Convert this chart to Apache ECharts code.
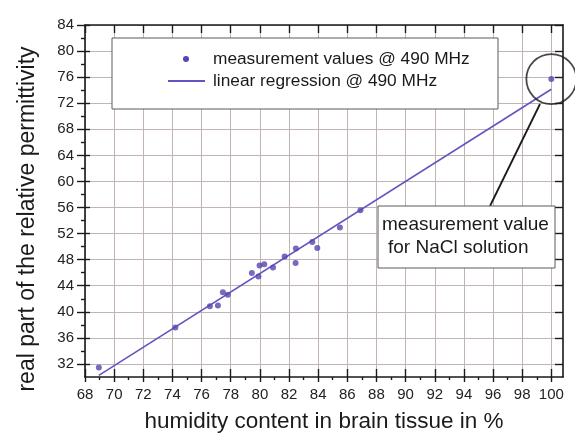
<!DOCTYPE html>
<html>
<head>
<meta charset="utf-8">
<script src="https://cdn.jsdelivr.net/npm/echarts@6/dist/echarts.min.js"></script>
<style>
  html, body { margin: 0; padding: 0; background: #fff; }
  #chart { width: 575px; height: 437px; }
</style>
</head>
<body>
<div id="chart"></div>
<script>
const humidity = [68.95, 74.2, 76.57, 77.12, 77.46, 77.8, 79.45, 79.9, 79.98, 80.3, 80.9, 81.7, 82.47, 82.45, 83.6, 83.94, 85.49, 86.9, 100.0];
const permittivity = [31.45, 37.6, 40.86, 40.97, 43.0, 42.6, 45.97, 45.4, 47.1, 47.3, 46.8, 48.5, 49.7, 47.5, 50.7, 49.8, 52.95, 55.6, 75.7];

// linear regression, end points
const regHumidity = [68.95, 100];
const regPermittivity = [30.26, 74.15];

// ticks
const xTicks = [68, 70, 72, 74, 76, 78, 80, 82, 84, 86, 88, 90, 92, 94, 96, 98, 100];
const xMinorTicks = [69, 71, 73, 75, 77, 79, 81, 83, 85, 87, 89, 91, 93, 95, 97, 99];
const yTicks = [32, 36, 40, 44, 48, 52, 56, 60, 64, 68, 72, 76, 80, 84];
const yMinorTicks = [34, 38, 42, 46, 50, 54, 58, 62, 66, 70, 74, 78, 82];

const FONT = "Liberation Sans, Arial, sans-serif";
const AXIS_COLOR = "#1a1a1a";
const GRID_COLOR = "#c2b4b2";
const X_MIN = 68, X_MAX = 100.8, Y_MIN = 30, Y_MAX = 84;

// extra axes only used to draw tick marks (inside / minor / mirrored)
function tickAxis(extra) {
  return Object.assign({
    type: "value",
    axisLine: { show: false, onZero: false },
    axisLabel: { show: false },
    splitLine: { show: false },
  }, extra);
}

function tickStyle(values, inside, length) {
  return { show: true, customValues: values, inside: inside, length: length,
           lineStyle: { color: AXIS_COLOR, width: 1.4 } };
}

const chart = echarts.init(document.getElementById("chart"), null, { renderer: "canvas" });

const nacl = [humidity[humidity.length - 1], permittivity[permittivity.length - 1]];

chart.setOption({
  animation: false,
  backgroundColor: "#ffffff",
  grid: { left: 85, right: 12, top: 25, bottom: 60, outerBoundsMode: "none" },
  xAxis: [
    {
      type: "value", position: "bottom", min: X_MIN, max: X_MAX,
      axisLine: { onZero: false, lineStyle: { color: AXIS_COLOR, width: 1.6 } },
      axisTick: tickStyle(xTicks, false, 5),
      axisLabel: { customValues: xTicks, fontSize: 15, color: "#222", margin: 10, fontFamily: FONT },
      splitLine: { show: true, lineStyle: { color: GRID_COLOR, width: 1 } },
      name: "humidity content in brain tissue in %",
      nameLocation: "middle", nameGap: 33,
      nameTextStyle: { fontSize: 22.5, color: "#1a1a1a", fontFamily: FONT },
    },
    tickAxis({ position: "bottom", min: X_MIN, max: X_MAX, axisTick: tickStyle(xTicks, true, 8) }),
    tickAxis({ position: "bottom", min: X_MIN, max: X_MAX, axisTick: tickStyle(xMinorTicks, false, 3) }),
    tickAxis({ position: "top", min: X_MIN, max: X_MAX,
      axisLine: { show: true, onZero: false, lineStyle: { color: AXIS_COLOR, width: 1.6 } },
      axisTick: tickStyle(xTicks, true, 8) }),
  ],
  yAxis: [
    {
      type: "value", position: "left", min: Y_MIN, max: Y_MAX,
      axisLine: { show: true, onZero: false, lineStyle: { color: AXIS_COLOR, width: 1.6 } },
      axisTick: tickStyle(yTicks, false, 8),
      axisLabel: { customValues: yTicks, fontSize: 15, color: "#222", margin: 11, fontFamily: FONT },
      splitLine: { show: true, lineStyle: { color: GRID_COLOR, width: 1 } },
    },
    tickAxis({ position: "left", min: Y_MIN, max: Y_MAX, axisTick: tickStyle(yTicks, true, 5) }),
    tickAxis({ position: "left", min: Y_MIN, max: Y_MAX, axisTick: tickStyle(yMinorTicks, false, 4) }),
    tickAxis({ position: "right", min: Y_MIN, max: Y_MAX,
      axisLine: { show: true, onZero: false, lineStyle: { color: AXIS_COLOR, width: 1.6 } },
      axisTick: tickStyle(yTicks, true, 8) }),
  ],
  series: [
    {
      name: "measurement values @ 490 MHz",
      type: "scatter",
      data: humidity.map((h, i) => [h, permittivity[i]]),
      symbolSize: 6,
      itemStyle: { color: "#5546b0" },
      z: 4,
    },
    {
      name: "linear regression @ 490 MHz",
      type: "line",
      data: regHumidity.map((h, i) => [h, regPermittivity[i]]),
      showSymbol: false,
      lineStyle: { color: "#6453c0", width: 1.6 },
      z: 3,
    },
    {
      // circle around the NaCl point
      type: "scatter",
      data: [nacl],
      symbolSize: 50,
      clip: false,
      silent: true,
      itemStyle: { color: "rgba(0,0,0,0)", borderColor: AXIS_COLOR, borderWidth: 1.8 },
      z: 5,
    },
  ],
  graphic: [
    // y axis title
    {
      type: "text", x: 28, y: 219, rotation: Math.PI / 2,
      style: { text: "real part of the relative permittivity", font: "23px " + FONT,
               fill: "#1a1a1a", align: "center", verticalAlign: "middle" },
    },
    // legend box
    {
      type: "rect", shape: { x: 112, y: 38, width: 386, height: 71 },
      style: { fill: "#ffffff", stroke: "#5a5a5a", lineWidth: 1 }, z: 10,
    },
    { type: "circle", shape: { cx: 186, cy: 59, r: 3 }, style: { fill: "#5546b0" }, z: 11 },
    { type: "line", shape: { x1: 168, y1: 81, x2: 205, y2: 81 },
      style: { stroke: "#6453c0", lineWidth: 2 }, z: 11 },
    { type: "text", x: 213, y: 59, z: 11,
      style: { text: "measurement values @ 490 MHz", font: "17.3px " + FONT, fill: "#1a1a1a", verticalAlign: "middle" } },
    { type: "text", x: 213, y: 81, z: 11,
      style: { text: "linear regression @ 490 MHz", font: "17.3px " + FONT, fill: "#1a1a1a", verticalAlign: "middle" } },
    // callout for the NaCl value
    { type: "line", shape: { x1: 540, y1: 104, x2: 490, y2: 206 },
      style: { stroke: AXIS_COLOR, lineWidth: 1.8 }, z: 10 },
    {
      type: "rect", shape: { x: 378, y: 206, width: 177, height: 62 },
      style: { fill: "#ffffff", stroke: "#5a5a5a", lineWidth: 1 }, z: 10,
    },
    { type: "text", x: 382, y: 225, z: 11,
      style: { text: "measurement value", font: "19px " + FONT, fill: "#1a1a1a", verticalAlign: "middle" } },
    { type: "text", x: 388, y: 248, z: 11,
      style: { text: "for NaCl solution", font: "19px " + FONT, fill: "#1a1a1a", verticalAlign: "middle" } },
  ],
});
</script>
</body>
</html>
